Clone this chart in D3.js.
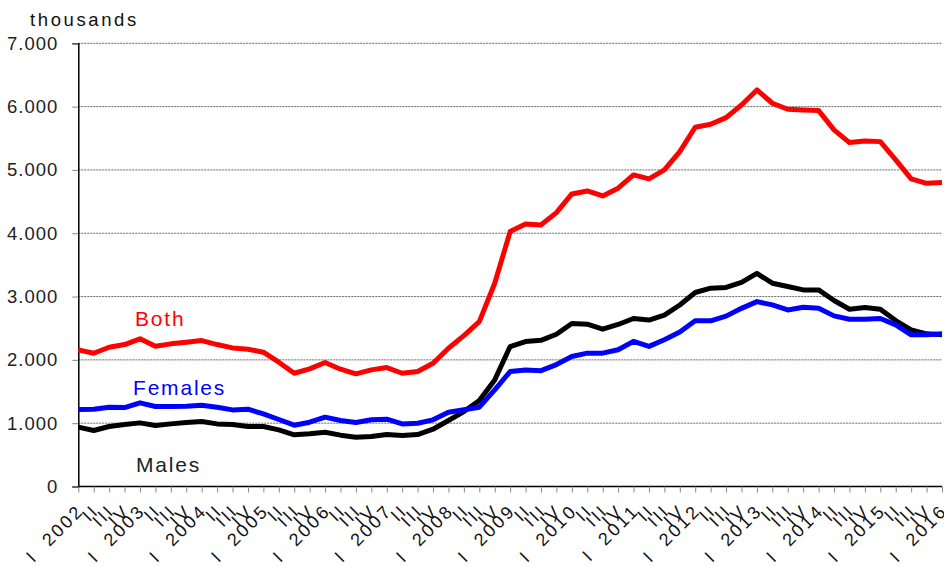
<!DOCTYPE html>
<html>
<head>
<meta charset="utf-8">
<script src="https://cdn.jsdelivr.net/npm/d3@7"></script>
<style>
  body { margin: 0; background: #fff; }
  svg { display: block; }
  text { font-family: "Liberation Sans", Arial, sans-serif; }
</style>
</head>
<body>
<div id="chart"></div>
<script>
// quarters 2002 Q1 .. 2016 Q1
let years = d3.range(2002, 2017);
let quarterNames = ['I', 'II', 'III', 'IV'];
let quarters = [];
years.forEach(function (y) {
    quarterNames.forEach(function (q, k) {
        if (y < 2016 || k == 0) quarters.push({ q: q, year: y });
    });
});

let both = [2158, 2105, 2200, 2242, 2332, 2216, 2253, 2279, 2305, 2242, 2189, 2168, 2121, 1963, 1789, 1858,
    1958, 1853, 1779, 1842, 1879, 1789, 1816, 1947, 2184, 2384, 2605, 3211, 4026,
    4147, 4132, 4326, 4621, 4668, 4589, 4711, 4921, 4858, 5000, 5289, 5674, 5721, 5826, 6026, 6263,
    6053, 5958, 5947, 5937, 5632, 5432, 5458, 5447, 5158, 4858, 4789, 4800];
let females = [1216, 1221, 1253, 1247, 1321, 1263, 1263, 1268, 1284, 1253, 1210, 1221, 1147, 1058, 968, 1016,
    1095, 1042, 1011, 1053, 1063, 989, 1000, 1053, 1174, 1211, 1253, 1526, 1816,
    1840, 1830, 1926, 2053, 2106, 2106, 2160, 2293, 2213, 2319, 2441, 2617, 2617, 2691, 2814, 2920,
    2868, 2789, 2832, 2816, 2695, 2642, 2642, 2653, 2553, 2395, 2395, 2411];
let males = [937, 884, 947, 979, 1005, 963, 989, 1011, 1026, 989, 979, 947, 947, 895, 816, 832,
    858, 811, 779, 789, 821, 805, 821, 905, 1042, 1184, 1358, 1684, 2211,
    2290, 2309, 2404, 2574, 2564, 2484, 2559, 2654, 2628, 2707, 2867, 3064, 3133, 3144, 3223, 3365,
    3211, 3158, 3105, 3105, 2937, 2800, 2826, 2800, 2621, 2474, 2411, 2395];
let yTicks = [0, 1000, 2000, 3000, 4000, 5000, 6000, 7000];

let series = [
    { name: 'Males', values: males, color: '#000000', lx: 136, ly: 472 },
    { name: 'Females', values: females, color: '#0000ff', lx: 133, ly: 395 },
    { name: 'Both', values: both, color: '#ff0000', lx: 135, ly: 326 }
];

let W = 944, H = 567;
let plotLeft = 78.3, plotRight = 942, plotTop = 43.3, plotBottom = 486.5;

let svg = d3.select('#chart').append('svg')
    .attr('width', W)
    .attr('height', H);

let x = d3.scalePoint()
    .domain(d3.range(quarters.length))
    .range([plotLeft, plotRight]);
let y = d3.scaleLinear()
    .domain([0, 7000])
    .range([plotBottom, plotTop]);

// gridlines
svg.append('g')
    .selectAll('line')
    .data(yTicks.filter(function (d) { return d > 0; }))
    .enter()
    .append('line')
    .attr('x1', plotLeft).attr('x2', plotRight)
    .attr('y1', function (d) { return y(d); })
    .attr('y2', function (d) { return y(d); })
    .attr('stroke', '#666')
    .attr('stroke-width', 1)
    .attr('stroke-dasharray', '2,1');

// y axis
let fmt = function (d) { return d3.format(',')(d).replace(/,/g, '.'); };
let yAxis = svg.append('g')
    .attr('transform', 'translate(' + plotLeft + ',0)')
    .call(d3.axisLeft(y).tickValues(yTicks).tickFormat(fmt).tickSize(6).tickPadding(14));
yAxis.select('.domain').attr('stroke', '#000').attr('stroke-width', 1.5);
yAxis.selectAll('.tick line').attr('stroke', '#888');
yAxis.selectAll('text')
    .attr('font-size', '18.5px')
    .attr('letter-spacing', '1px')
    .attr('fill', '#222')
    .attr('font-family', '"Liberation Sans", Arial, sans-serif');

// x axis
let xAxis = svg.append('g')
    .attr('transform', 'translate(0,' + plotBottom + ')')
    .call(d3.axisBottom(x).tickSize(6).tickFormat(''));
xAxis.select('.domain').attr('stroke', '#000').attr('stroke-width', 1.5).attr('d', 'M' + plotLeft + ',0H' + plotRight);
xAxis.selectAll('.tick line').attr('stroke', '#888');

svg.append('g')
    .selectAll('text')
    .data(quarters)
    .enter()
    .append('text')
    .attr('transform', function (d, i) { return 'translate(' + (x(i) + 2) + ',' + (plotBottom + 21) + ') rotate(-45)'; })
    .attr('text-anchor', 'end')
    .attr('dy', '0.35em')
    .attr('font-size', '18px')
    .attr('letter-spacing', '2.5px')
    .attr('fill', '#111')
    .style('white-space', 'pre')
    .text(function (d) { return d.q == 'I' ? 'I\u00a0\u00a0' + d.year : d.q; });

// unit label
svg.append('text')
    .attr('x', 30).attr('y', 26)
    .attr('font-size', '18.5px')
    .attr('letter-spacing', '2.6px')
    .attr('fill', '#111')
    .text('thousands');

// lines
let line = d3.line()
    .x(function (d, i) { return x(i); })
    .y(function (d) { return y(d); });

svg.append('g')
    .selectAll('path')
    .data(series)
    .enter()
    .append('path')
    .attr('d', function (d) { return line(d.values); })
    .attr('fill', 'none')
    .attr('stroke', function (d) { return d.color; })
    .attr('stroke-width', 5)
    .attr('stroke-linejoin', 'round');

// series labels
svg.append('g')
    .selectAll('text')
    .data(series)
    .enter()
    .append('text')
    .attr('x', function (d) { return d.lx; })
    .attr('y', function (d) { return d.ly; })
    .attr('font-size', '21px')
    .attr('letter-spacing', '1.8px')
    .attr('fill', function (d) { return d.color == '#000000' ? '#222' : d.color; })
    .text(function (d) { return d.name; });
</script>
</body>
</html>
